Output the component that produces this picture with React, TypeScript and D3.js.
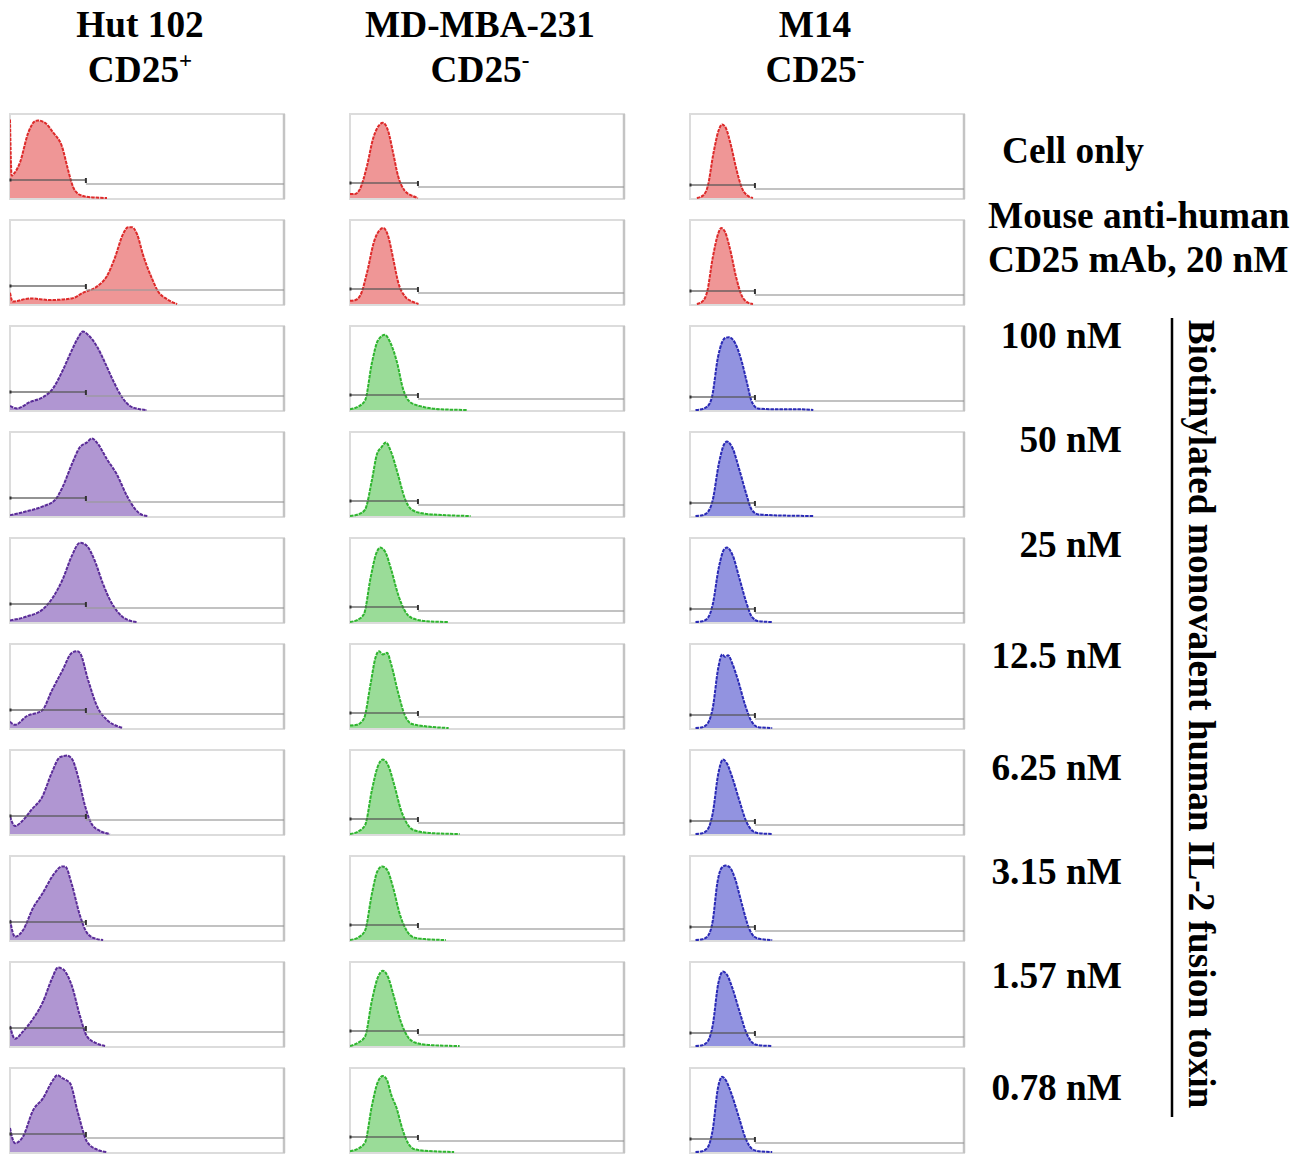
import React from "react";
import * as d3 from "d3";

// ---------- data ----------
const columnNames = ["Hut 102", "MD-MBA-231", "M14"];
const columnSup = ["+", "-", "-"];
const topLabels = ["Cell only", "Mouse anti-human", "CD25 mAb, 20 nM"];
const concLabels = ["100 nM", "50 nM", "25 nM", "12.5 nM", "6.25 nM", "3.15 nM", "1.57 nM", "0.78 nM"];
const sideTitle = "Biotinylated monovalent human IL-2 fusion toxin";
// gate marker end (% of axis) per column
const gateEnd = [27.7, 24.8, 23.7];

// histograms: [x (% of axis), count (% of max)]
const hut102: number[][][] = [
  [[0, 98], [0.6, 28], [1.8, 32], [3.6, 44], [6.6, 81], [9.1, 96], [10.2, 97], [12.8, 94], [15.7, 82], [19, 64], [21.2, 35], [23, 14], [25.5, 4], [29.2, 1], [35.4, 0]],
  [[0, 14], [1, 3], [7.3, 7], [14.6, 5], [22.6, 7], [26.6, 14], [31.8, 22], [35.4, 35], [38.3, 58], [41.2, 87], [43.1, 96], [44.5, 96], [46.4, 87], [48.5, 62], [51.8, 32], [54, 16], [57.3, 6], [61, 0]],
  [[0, 5], [2.6, 2], [7.3, 10], [12, 16], [15.7, 27], [19.3, 50], [22.6, 75], [24.8, 90], [26.6, 98], [28.5, 94], [31.8, 79], [34.7, 59], [37.6, 37], [40.9, 16], [43.8, 5], [47.4, 1], [50, 0]],
  [[0, 1], [6.2, 6], [12, 12], [16.4, 20], [19.3, 37], [22.6, 65], [25.5, 86], [28.1, 92], [29.9, 97], [32.1, 90], [35.4, 71], [39, 52], [42.7, 25], [45.6, 9], [48.5, 1], [50.4, 0]],
  [[0, 2], [6.2, 7], [12, 16], [15.7, 31], [19.3, 54], [22.6, 83], [25.5, 99], [28.1, 95], [31, 76], [33.9, 48], [37.2, 23], [40.9, 7], [44.5, 1], [46.4, 0]],
  [[0, 8], [1.8, 4], [6.2, 15], [11.7, 22], [15.3, 47], [19, 71], [22.6, 94], [24.5, 96], [25.5, 94], [28.5, 60], [31.8, 27], [35.4, 10], [39.4, 2], [41.2, 0]],
  [[0, 22], [1.8, 10], [4.4, 16], [8, 31], [11.7, 46], [15.3, 77], [18.2, 96], [20.8, 98], [22.6, 94], [24.8, 72], [27.4, 35], [29.9, 12], [32.8, 4], [36.5, 0]],
  [[0, 25], [1.8, 4], [4.7, 12], [8.4, 40], [12, 59], [15.7, 81], [19, 92], [20.1, 92], [22.6, 69], [25.5, 31], [28.1, 9], [31, 2], [34, 0]],
  [[0, 25], [1.8, 9], [4.7, 18], [8.4, 34], [12, 55], [15.3, 84], [17.5, 98], [19.3, 96], [22.6, 75], [25.5, 38], [28.1, 12], [31.8, 3], [34.7, 0]],
  [[0, 30], [1.8, 11], [4.7, 19], [8.4, 52], [12, 67], [15.7, 90], [17.2, 96], [19.3, 92], [21.9, 86], [24.8, 49], [28.1, 13], [31.8, 3], [35.4, 0]],
];

const mdmba231: number[][][] = [
  [[0, 5], [1.8, 5], [3.6, 11], [6.2, 40], [8.4, 74], [10.9, 92], [12, 94], [13.9, 84], [15.7, 57], [17.5, 28], [20, 9], [22.6, 3], [24.8, 0]],
  [[0, 4], [2, 5], [3.8, 11], [6.4, 42], [8.6, 76], [11, 93], [12.2, 95], [14, 84], [15.8, 56], [17.6, 27], [20.2, 9], [22.8, 3], [25, 0]],
  [[0, 1], [2.9, 4], [5.5, 12], [8, 59], [10.2, 87], [12.8, 94], [14.6, 85], [17.2, 59], [19.3, 27], [21.9, 10], [26.6, 4], [32.8, 1], [42.7, 0]],
  [[0, 0], [3, 2], [5.5, 8], [8, 45], [9.9, 78], [11.5, 86], [13.1, 92], [15, 80], [17.5, 52], [20, 22], [22.5, 8], [27, 3], [35, 1], [44, 0]],
  [[0, 0], [2.9, 3], [5.1, 10], [7.5, 55], [9.5, 85], [11, 93], [12.8, 88], [15, 66], [17.5, 35], [20, 14], [22.6, 5], [28, 1], [36, 0]],
  [[0, 3], [2.5, 4], [5.1, 12], [7.5, 55], [9.3, 88], [10.6, 96], [12, 92], [13.5, 94], [15, 80], [17.5, 45], [20, 16], [22.6, 5], [28, 2], [36, 0]],
  [[0, 0], [2.9, 3], [5.5, 11], [8, 55], [10.2, 85], [12, 93], [13.9, 86], [16.1, 62], [18.6, 30], [21.2, 11], [24, 4], [30, 1], [40, 0]],
  [[0, 0], [2.9, 3], [5.5, 12], [8, 58], [10, 86], [11.7, 92], [13.5, 88], [15.7, 66], [18.2, 32], [20.8, 11], [23.5, 3], [28, 1], [35, 0]],
  [[0, 0], [2.9, 4], [5.5, 12], [8, 57], [10.2, 86], [12, 94], [13.9, 86], [16, 62], [18.6, 30], [21.2, 11], [24, 4], [30, 1], [40, 0]],
  [[0, 1], [2.9, 4], [5.5, 12], [8, 58], [10.2, 88], [12, 95], [13.5, 90], [15, 72], [17, 55], [19, 30], [21.2, 11], [24, 3], [30, 1], [38, 0]],
];

const m14: number[][][] = [
  [[2.5, 0], [4.7, 3], [6.5, 15], [8.5, 55], [10.5, 85], [11.7, 92], [13, 88], [15, 65], [17, 35], [19, 12], [21, 3], [23, 0]],
  [[2.5, 0], [4.5, 3], [6.3, 16], [8.3, 58], [10.3, 88], [11.4, 95], [12.8, 90], [14.8, 66], [16.8, 34], [18.8, 11], [21, 2], [23, 0]],
  [[2, 0], [3.6, 0.5], [6.2, 4], [8, 16], [10.2, 66], [12.8, 90], [14.2, 91], [16.4, 84], [19, 59], [20.8, 34], [22.6, 10], [24.8, 2], [29.2, 1], [40, 1], [45, 0]],
  [[2, 0], [4.5, 1], [6.5, 5], [8.3, 20], [10.5, 65], [12.5, 90], [13.5, 93], [15.5, 85], [18, 58], [20.5, 28], [22.5, 8], [25, 2], [30, 1], [45, 0]],
  [[2, 0], [4.5, 1], [6.5, 5], [8.3, 22], [10.5, 68], [12.5, 91], [13.5, 93], [15.5, 84], [18, 55], [20.5, 25], [22.5, 7], [25, 1], [30, 0]],
  [[2, 0], [4.5, 1], [6.5, 6], [8.3, 25], [10.3, 75], [11.7, 92], [12.8, 89], [13.9, 91], [15.5, 80], [17.5, 60], [20, 30], [22.5, 8], [25, 1], [30, 0]],
  [[2, 0], [4.5, 1], [6.5, 6], [8.3, 26], [10.3, 75], [12, 93], [13.5, 88], [15.5, 70], [18, 42], [20.5, 16], [22.8, 4], [25, 1], [30, 0]],
  [[2, 0], [4.5, 1], [6.5, 5], [8.3, 24], [10, 72], [11.5, 90], [13, 93], [14.5, 91], [16.5, 76], [19, 44], [21.5, 15], [23.5, 4], [26, 1], [30, 0]],
  [[2, 0], [4.5, 1], [6.5, 6], [8.3, 26], [10.3, 78], [12, 93], [13.5, 89], [15.5, 72], [18, 44], [20.5, 17], [22.8, 4], [25, 1], [30, 0]],
  [[2, 0], [4.5, 1], [6.5, 6], [8.3, 28], [10.2, 80], [11.7, 94], [13.2, 89], [15.2, 72], [17.8, 44], [20.3, 17], [22.6, 4], [25, 1], [30, 0]],
];

const histograms = [hut102, mdmba231, m14];

// ---------- layout ----------
const W = 1308;
const H = 1155;
const colX = [10, 350, 690];
const panelW = 274;
const panelH = 85;
const rowTop = [114, 220, 326, 432, 538, 644, 750, 856, 962, 1068];
const gateOffset = [66, 69, 71];
const concBaselines = [348, 452, 557, 668, 780, 884, 988, 1100];

const palette = {
  red: { fill: "#ef9696", stroke: "#dd2a2a" },
  purple: { fill: "#b096d2", stroke: "#5a2c98" },
  green: { fill: "#9adc98", stroke: "#2fb52f" },
  blue: { fill: "#9293e0", stroke: "#2a2ab5" },
};
const colColors = ["purple", "green", "blue"] as const;

const FONT = "'Liberation Serif', 'Times New Roman', serif";
const FS = 37.3;

function Panel({ col, row }: { col: number; row: number }) {
  const x0 = colX[col];
  const top = rowTop[row];
  const x = d3.scaleLinear().domain([0, 100]).range([x0, x0 + panelW]);
  const y = d3.scaleLinear().domain([0, 100]).range([top + 84, top + 4]);
  const data = histograms[col][row];
  const colorKey = row < 2 ? "red" : colColors[col];
  const c = palette[colorKey];
  const area = d3
    .area<number[]>()
    .x((d) => x(d[0]))
    .y0(y(0))
    .y1((d) => y(d[1]))
    .curve(d3.curveMonotoneX);
  const line = d3
    .line<number[]>()
    .x((d) => x(d[0]))
    .y((d) => y(d[1]))
    .curve(d3.curveMonotoneX);
  const gy = top + gateOffset[col];
  const gx = x(gateEnd[col]);
  const clipId = `clip-${col}-${row}`;
  return (
    <g>
      <defs>
        <clipPath id={clipId}>
          <rect x={x0} y={top} width={panelW} height={panelH} />
        </clipPath>
      </defs>
      <rect x={x0} y={top} width={panelW} height={panelH} fill="#fff" stroke="#dcdcdc" strokeWidth={2} />
      <line x1={x0 + panelW} x2={x0 + panelW} y1={top} y2={top + panelH} stroke="#c4c4c4" strokeWidth={2.5} />
      <g clipPath={`url(#${clipId})`}>
        <path d={area(data) || ""} fill={c.fill} />
        <path d={line(data) || ""} fill="none" stroke={c.stroke} strokeWidth={2} strokeDasharray="3.5 1" />
      </g>
      {/* gate markers */}
      <line x1={gx} x2={x0 + panelW} y1={gy + 4} y2={gy + 4} stroke="#9a9a9a" strokeOpacity={0.8} strokeWidth={1.5} />
      <line x1={x0} x2={gx} y1={gy} y2={gy} stroke="#555" strokeOpacity={0.85} strokeWidth={1.3} />
      <line x1={x0 + 0.5} x2={x0 + 0.5} y1={gy - 1.5} y2={gy + 1.5} stroke="#333" strokeWidth={2} />
      <line x1={gx} x2={gx} y1={gy - 2} y2={gy + 3} stroke="#333" strokeWidth={2} />
    </g>
  );
}

export default function App() {
  const headerCenters = [140, 480, 815];
  return (
    <svg width={W} height={H} style={{ position: "absolute", left: 0, top: 0, background: "#fff" }} fontFamily={FONT}>
      <rect x={0} y={0} width={W} height={H} fill="#fff" />
      {columnNames.map((name, i) => (
        <g key={name} fontWeight="bold" fontSize={FS} textAnchor="middle" fill="#000">
          <text x={headerCenters[i]} y={37}>{name}</text>
          <text x={headerCenters[i]} y={82}>
            CD25
            <tspan fontSize={23} dy={-14}>{columnSup[i]}</tspan>
          </text>
        </g>
      ))}
      {columnNames.map((_, col) =>
        rowTop.map((_, row) => <Panel key={`${col}-${row}`} col={col} row={row} />)
      )}
      <g fontWeight="bold" fontSize={FS} fill="#000">
        <text x={1002} y={163}>{topLabels[0]}</text>
        <text x={988} y={228}>{topLabels[1]}</text>
        <text x={988} y={272}>{topLabels[2]}</text>
        {concLabels.map((l, i) => (
          <text key={l} x={1122} y={concBaselines[i]} textAnchor="end">{l}</text>
        ))}
      </g>
      <line x1={1172} x2={1172} y1={318} y2={1117} stroke="#000" strokeWidth={2.5} />
      <text
        transform="translate(1189,714) rotate(90)"
        textAnchor="middle"
        fontWeight="bold"
        fontSize={FS}
        fill="#000"
      >
        {sideTitle}
      </text>
    </svg>
  );
}
